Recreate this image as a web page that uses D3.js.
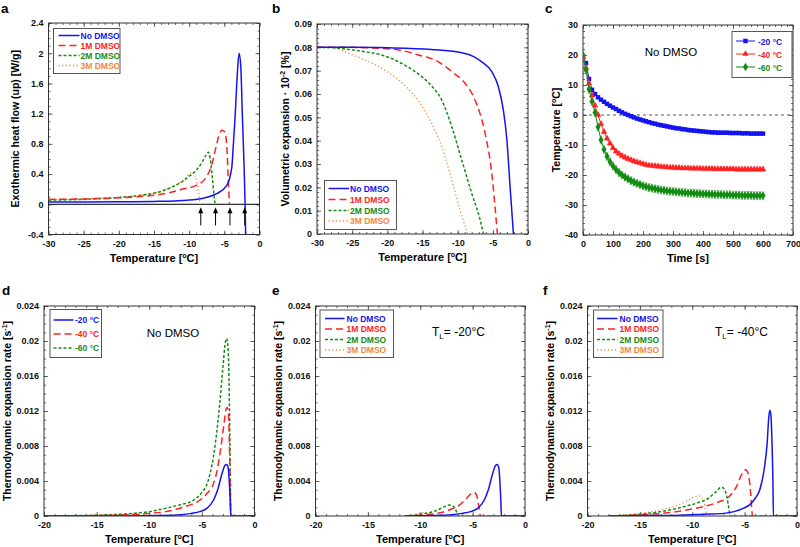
<!DOCTYPE html>
<html>
<head>
<meta charset="utf-8">
<script src="https://cdn.jsdelivr.net/npm/d3@7"></script>
<style>
  body { margin: 0; background: #fff; }
  svg { font-family: Arial, "Liberation Sans", sans-serif; }
  .tick text { font-weight: bold; font-size: 9px; fill: #111; }
</style>
</head>
<body>
<svg id="fig" width="800" height="547"></svg>
<script>
// ---------- data: panel a (heat flow vs temperature) ----------
const aNoDmso = [[-30,0.03],[-25,0.03],[-20,0.032],[-15,0.038],[-12,0.045],[-10.3,0.053],[-8,0.08],[-6.1,0.14],[-4.65,0.25],[-3.94,0.49],[-3.71,0.8],[-3.47,1.16],[-3.09,1.82],[-2.9,2.0],[-2.66,1.82],[-2.43,1.16],[-2.19,0.49],[-2.05,0],[-1.95,-0.5]];
const a1M = [[-30,0.065],[-25,0.07],[-20,0.085],[-16,0.11],[-13,0.15],[-11,0.2],[-9,0.25],[-7.5,0.37],[-6.8,0.52],[-6.2,0.75],[-5.7,0.93],[-5.35,0.98],[-4.95,0.96],[-4.65,0.77],[-4.45,0.35],[-4.27,0]];
const a2M = [[-30,0.055],[-25,0.065],[-20,0.09],[-16,0.13],[-14,0.17],[-12.4,0.23],[-11,0.3],[-10,0.37],[-9,0.45],[-8.2,0.55],[-7.6,0.65],[-7.27,0.69],[-7.0,0.6],[-6.7,0.35],[-6.45,0.1],[-6.32,0]];
const a3M = [[-30,0.065],[-25,0.075],[-20,0.095],[-17,0.12],[-15,0.15],[-13,0.21],[-12,0.25],[-11,0.31],[-10.2,0.38],[-9.6,0.43],[-9.2,0.38],[-8.9,0.3],[-8.65,0.15],[-8.45,0]];
const aArrows = [-8.35, -6.25, -4.2, -2.1];

// ---------- panel b (volumetric expansion) ----------
const bNoDmso = [[-30,0.08],[-25,0.08],[-20,0.0798],[-13.7,0.0791],[-8.95,0.0774],[-6.57,0.0738],[-5.15,0.0696],[-4.2,0.063],[-3.5,0.053],[-3.0,0.0403],[-2.55,0.0203],[-2.07,0]];
const b1M = [[-30,0.08],[-25,0.08],[-22,0.0797],[-18.4,0.0789],[-15.6,0.0767],[-12.74,0.0738],[-10.84,0.0696],[-8.95,0.0646],[-7.53,0.0574],[-6.1,0.0431],[-5.15,0.026],[-4.7,0.012],[-4.35,0]];
const b2M = [[-30,0.08],[-27.5,0.0798],[-25.5,0.0791],[-23.2,0.0781],[-20.8,0.0767],[-18.4,0.0738],[-16.06,0.0696],[-13.7,0.0634],[-12.26,0.0574],[-10.84,0.046],[-9.42,0.0317],[-8.0,0.0174],[-6.8,0.006],[-6.33,0]];
const b3M = [[-30,0.08],[-27.9,0.0799],[-25.5,0.0774],[-23.2,0.0746],[-20.8,0.071],[-18.4,0.066],[-16.06,0.0589],[-13.7,0.0474],[-12.26,0.0374],[-10.84,0.0231],[-9.66,0.0103],[-8.57,0]];

// ---------- panel c (temperature vs time, No DMSO) ----------
const cTime = [0,10,20,30,40,50,60,70,80,90,100,110,120,130,140,150,160,170,180,190,200,210,220,230,240,250,260,270,280,290,300,310,320,330,340,350,360,370,380,390,400,410,420,430,440,450,460,470,480,490,500,510,520,530,540,550,560,570,580,590,600];
const cMinus20 = [19.5,17.3,12.0,8.4,7.0,5.9,5.1,4.4,3.7,3.1,2.5,2.0,1.4,0.9,0.4,0.0,-0.4,-0.8,-1.2,-1.5,-1.8,-2.1,-2.4,-2.7,-2.9,-3.2,-3.4,-3.6,-3.8,-4.0,-4.2,-4.4,-4.5,-4.7,-4.8,-5.0,-5.1,-5.2,-5.3,-5.4,-5.5,-5.6,-5.7,-5.8,-5.8,-5.9,-5.9,-5.9,-5.9,-6.0,-6.0,-6.0,-6.0,-6.1,-6.1,-6.1,-6.2,-6.2,-6.2,-6.2,-6.2];
const cMinus40 = [19.4,15.8,10.5,6.5,3.2,0.0,-3.0,-5.6,-7.8,-9.5,-11.0,-12.1,-12.9,-13.6,-14.1,-14.6,-15.0,-15.4,-15.7,-16.0,-16.3,-16.6,-16.8,-16.9,-17.0,-17.1,-17.2,-17.3,-17.4,-17.5,-17.5,-17.6,-17.6,-17.7,-17.7,-17.7,-17.8,-17.8,-17.8,-17.8,-17.9,-17.9,-17.9,-17.9,-18.0,-18.0,-18.0,-18.0,-18.0,-18.0,-18.0,-18.1,-18.1,-18.1,-18.1,-18.1,-18.1,-18.1,-18.1,-18.1,-18.1];
const cMinus60 = [20.0,15.0,8.6,4.5,0.8,-4.0,-8.3,-11.5,-13.8,-15.6,-17.0,-18.2,-19.2,-20.0,-20.7,-21.3,-21.9,-22.4,-22.8,-23.2,-23.6,-23.9,-24.2,-24.4,-24.6,-24.8,-25.0,-25.1,-25.3,-25.4,-25.5,-25.6,-25.7,-25.8,-25.9,-26.0,-26.0,-26.1,-26.2,-26.2,-26.3,-26.3,-26.4,-26.4,-26.5,-26.5,-26.5,-26.6,-26.6,-26.6,-26.7,-26.7,-26.7,-26.8,-26.8,-26.8,-26.8,-26.9,-26.9,-26.9,-26.9];
const cErr = [0.3, 0.7, 1.3];
const cLabels = ["-20 °C", "-40 °C", "-60 °C"];

// ---------- panel d (expansion rate, No DMSO) ----------
const dMinus20 = [[-20,0],[-12,0],[-9,0.00005],[-7,0.00015],[-6,0.0003],[-5.2,0.0005],[-4.5,0.0009],[-3.9,0.0018],[-3.5,0.003],[-3.1,0.0048],[-2.8,0.0058],[-2.65,0.0059],[-2.5,0.0055],[-2.4,0.004],[-2.3,0.0015],[-2.25,0],[0,0]];
const dMinus40 = [[-20,0],[-13,0.0001],[-10,0.0003],[-8.4,0.0005],[-6.8,0.001],[-5.2,0.0018],[-4.5,0.0026],[-3.9,0.0037],[-3.5,0.0055],[-3.2,0.0078],[-2.9,0.0105],[-2.7,0.0122],[-2.6,0.0124],[-2.5,0.012],[-2.4,0.009],[-2.3,0.003],[-2.25,0],[0,0]];
const dMinus60 = [[-20,0],[-17,0.00005],[-14.7,0.0001],[-11.6,0.0003],[-10,0.0005],[-8.4,0.0009],[-7,0.0013],[-5.8,0.0018],[-5,0.0027],[-4.5,0.0037],[-3.9,0.0068],[-3.5,0.0105],[-3.3,0.0129],[-3.0,0.017],[-2.8,0.0196],[-2.65,0.0203],[-2.5,0.019],[-2.4,0.014],[-2.3,0.005],[-2.25,0],[0,0]];

// ---------- panel e (T_L = -20 °C) ----------
const eNoDmso = [[-11.5,0],[-9,0.00005],[-7,0.00015],[-6,0.0003],[-5.2,0.0005],[-4.5,0.0009],[-3.9,0.0018],[-3.5,0.003],[-3.1,0.0048],[-2.8,0.0058],[-2.65,0.0059],[-2.5,0.0055],[-2.4,0.004],[-2.3,0.0015],[-2.25,0],[0,0]];
const e1M = [[-11.5,0],[-10,0.0001],[-9,0.0002],[-8,0.0004],[-7,0.0008],[-6.2,0.0013],[-5.6,0.002],[-5.1,0.0026],[-4.85,0.0027],[-4.6,0.0023],[-4.4,0.001],[-4.25,0],[0,0]];
const e2M = [[-11.5,0],[-10.5,0.0001],[-9.5,0.0003],[-8.5,0.0006],[-7.8,0.001],[-7.3,0.00125],[-7.0,0.0012],[-6.7,0.0009],[-6.5,0.0004],[-6.35,0],[0,0]];
const e3M = [[-11.5,0],[-10.8,0.0001],[-10,0.0003],[-9.5,0.0004],[-9.1,0.0003],[-8.8,0.0001],[-8.6,0],[0,0]];

// ---------- panel f (T_L = -40 °C) ----------
const fNoDmso = [[-18,0],[-14,0.00005],[-11,0.0001],[-9,0.0002],[-7,0.0003],[-6,0.0005],[-5.1,0.0009],[-4.5,0.0013],[-4,0.002],[-3.55,0.003],[-3.1,0.0056],[-2.85,0.0083],[-2.7,0.0112],[-2.6,0.0121],[-2.5,0.0116],[-2.4,0.009],[-2.3,0.004],[-2.25,0],[0,0]];
const f1M = [[-18,0],[-14,0.0002],[-12,0.0004],[-10,0.0008],[-8.5,0.0012],[-7.5,0.0016],[-6.5,0.0022],[-5.8,0.0033],[-5.3,0.0047],[-4.9,0.0053],[-4.65,0.0048],[-4.45,0.003],[-4.3,0.0005],[-4.25,0],[0,0]];
const f2M = [[-18,0],[-15,0.0002],[-13,0.0005],[-11,0.001],[-9.5,0.0015],[-8.5,0.002],[-7.8,0.0027],[-7.2,0.0033],[-6.9,0.003],[-6.7,0.0022],[-6.5,0.0008],[-6.4,0],[0,0]];
const f3M = [[-18,0],[-15,0.0003],[-13,0.0007],[-11.5,0.0012],[-10.5,0.0017],[-9.8,0.0022],[-9.4,0.0023],[-9.1,0.0021],[-8.8,0.0012],[-8.6,0],[0,0]];

const dmsoLabels = ["No DMSO", "1M DMSO", "2M DMSO", "3M DMSO"];
const tlLabels = ["-20 °C", "-40 °C", "-60 °C"];

// ---------- styles ----------
const col = { blue: "#1414f0", red: "#ff2222", green: "#148c14", orange: "#f0883c" };
const styles = [
  { color: col.blue, dash: null, width: 1.5 },
  { color: col.red, dash: "7,4", width: 1.5 },
  { color: col.green, dash: "3,2", width: 1.5 },
  { color: col.orange, dash: "1.2,2.4", width: 1.3 }
];

const svg = d3.select("#fig");
const fmt = d => String(+d.toFixed(4));

function panel(o) {
  const [x0, x1, y0, y1] = o.box;
  const g = svg.append("g");
  const x = d3.scaleLinear().domain(o.xDom).range([x0, x1]);
  const y = d3.scaleLinear().domain(o.yDom).range([y1, y0]);

  g.append("clipPath").attr("id", "clip-" + o.name)
    .append("rect").attr("x", x0).attr("y", y0).attr("width", x1 - x0).attr("height", y1 - y0);

  // axes: major + minor, inward, on all four sides
  function addAxis(gen, scale, vals, size, tr, labels, pad) {
    const a = gen(scale).tickValues(vals).tickSizeInner(-size).tickSizeOuter(0);
    if (labels) a.tickFormat(fmt).tickPadding(pad); else a.tickFormat("");
    const s = g.append("g").attr("transform", tr).call(a);
    s.select(".domain").remove();
    s.selectAll("line").attr("stroke", "#444").attr("stroke-width", 0.8);
  }
  const xMinor = d3.range(o.xDom[0], o.xDom[1] + 1e-9, o.xMinor);
  const yMinor = d3.range(o.yDom[0], o.yDom[1] + 1e-9, o.yMinor);
  addAxis(d3.axisBottom, x, o.xTicks, 4, `translate(0,${y1})`, true, 6);
  addAxis(d3.axisBottom, x, xMinor, 2, `translate(0,${y1})`, false);
  addAxis(d3.axisTop, x, o.xTicks, 4, `translate(0,${y0})`, false);
  addAxis(d3.axisTop, x, xMinor, 2, `translate(0,${y0})`, false);
  addAxis(d3.axisLeft, y, o.yTicks, 4, `translate(${x0},0)`, true, 5);
  addAxis(d3.axisLeft, y, yMinor, 2, `translate(${x0},0)`, false);
  addAxis(d3.axisRight, y, o.yTicks, 4, `translate(${x1},0)`, false);
  addAxis(d3.axisRight, y, yMinor, 2, `translate(${x1},0)`, false);

  g.append("rect").attr("x", x0).attr("y", y0).attr("width", x1 - x0).attr("height", y1 - y0)
    .attr("fill", "none").attr("stroke", "#333").attr("stroke-width", 1);

  // axis titles
  const xt = g.append("text").attr("x", (x0 + x1) / 2).attr("y", y1 + 27)
    .attr("text-anchor", "middle").attr("font-weight", "bold").attr("font-size", "11px");
  o.xTitle(xt);
  const yt = g.append("text").attr("transform", `translate(${o.yTitleX},${(y0 + y1) / 2}) rotate(-90)`)
    .attr("text-anchor", "middle").attr("font-weight", "bold").attr("font-size", "10.5px");
  o.yTitle(yt);

  // panel letter
  svg.append("text").attr("x", o.letterX).attr("y", o.letterY).attr("font-weight", "bold")
    .attr("font-size", "13.5px").text(o.name);

  return { g, x, y, clip: `url(#clip-${o.name})` };
}

function withSup(sel, before, sup, after) {
  sel.append("tspan").text(before);
  sel.append("tspan").attr("dy", -4).attr("font-size", "7px").text(sup);
  sel.append("tspan").attr("dy", 4).text(after);
}
const tempTitle = s => withSup(s, "Temperature [", "o", "C]");
const rateTitle = s => withSup(s, "Thermodynamic expansion rate [s", "-1", "]");

function drawLines(p, seriesList) {
  const line = d3.line().x(d => p.x(d[0])).y(d => p.y(d[1])).curve(d3.curveMonotoneX);
  p.g.append("g").attr("clip-path", p.clip).selectAll("path")
    .data(seriesList).join("path")
    .attr("d", d => line(d.data))
    .attr("fill", "none")
    .attr("stroke", d => d.style.color)
    .attr("stroke-width", d => d.style.width)
    .attr("stroke-dasharray", d => d.style.dash);
}

function lineLegend(p, box, rowY, lineX, textX, labels, st, fontSize) {
  const lg = p.g.append("g");
  lg.append("rect").attr("x", box[0]).attr("y", box[1]).attr("width", box[2]).attr("height", box[3])
    .attr("fill", "#fff").attr("stroke", "#555").attr("stroke-width", 1);
  labels.forEach((lab, i) => {
    lg.append("line").attr("x1", lineX[0]).attr("x2", lineX[1]).attr("y1", rowY[i]).attr("y2", rowY[i])
      .attr("stroke", st[i].color).attr("stroke-width", st[i].width).attr("stroke-dasharray", st[i].dash);
    lg.append("text").attr("x", textX).attr("y", rowY[i] + 3).attr("font-size", fontSize)
      .attr("font-weight", "bold").attr("fill", st[i].color).text(lab);
  });
}

// ================= panel a =================
const pa = panel({
  name: "a", box: [48.5, 259.5, 23, 234.5], xDom: [-30, 0], yDom: [-0.4, 2.4],
  xTicks: [-30, -25, -20, -15, -10, -5, 0], yTicks: [-0.4, 0, 0.4, 0.8, 1.2, 1.6, 2, 2.4],
  xMinor: 1, yMinor: 0.1, xTitle: tempTitle,
  yTitle: s => s.text("Exothermic heat flow (up) [W/g]"), yTitleX: 18.5, letterX: 1, letterY: 13
});
pa.g.append("line").attr("x1", pa.x(-30)).attr("x2", pa.x(0)).attr("y1", pa.y(0)).attr("y2", pa.y(0))
  .attr("stroke", "#000").attr("stroke-width", 1);
drawLines(pa, [a3M, a2M, a1M, aNoDmso].map((d, i) => ({ data: d, style: styles[3 - i] })));
aArrows.forEach(t => {
  const xp = pa.x(t), tip = pa.y(-0.04), tail = pa.y(-0.28);
  pa.g.append("line").attr("x1", xp).attr("x2", xp).attr("y1", tail).attr("y2", tip + 4)
    .attr("stroke", "#000").attr("stroke-width", 1);
  pa.g.append("path").attr("d", `M${xp},${tip} L${xp - 2.5},${tip + 6} L${xp + 2.5},${tip + 6} Z`).attr("fill", "#000");
});
lineLegend(pa, [53.5, 28.5, 66.5, 45], [35.5, 45.5, 55.5, 65.5], [58.5, 79.5], 80.5, dmsoLabels, styles, "8.5px");

// ================= panel b =================
const pb = panel({
  name: "b", box: [317, 528, 24, 234], xDom: [-30, 0], yDom: [0, 0.09],
  xTicks: [-30, -25, -20, -15, -10, -5, 0], yTicks: [0, 0.01, 0.02, 0.03, 0.04, 0.05, 0.06, 0.07, 0.08, 0.09],
  xMinor: 1, yMinor: 0.002, xTitle: tempTitle,
  yTitle: s => withSup(s, "Volumetric expansion · 10", "-2", " [%]"), yTitleX: 288.5, letterX: 272, letterY: 13
});
drawLines(pb, [b3M, b2M, b1M, bNoDmso].map((d, i) => ({ data: d, style: styles[3 - i] })));
lineLegend(pb, [324.5, 180.5, 72, 49], [188.5, 199.5, 210.5, 221], [328.5, 349], 350, dmsoLabels, styles, "8.5px");

// ================= panel c =================
const pc = panel({
  name: "c", box: [583, 793, 25, 235], xDom: [0, 700], yDom: [-40, 30],
  xTicks: [0, 100, 200, 300, 400, 500, 600, 700], yTicks: [-40, -30, -20, -10, 0, 10, 20, 30],
  xMinor: 20, yMinor: 2, xTitle: s => s.text("Time [s]"),
  yTitle: s => withSup(s, "Temperature [", "o", "C]"), yTitleX: 560, letterX: 545, letterY: 13
});
pc.g.append("line").attr("x1", pc.x(0)).attr("x2", pc.x(700)).attr("y1", pc.y(0)).attr("y2", pc.y(0))
  .attr("stroke", "#555").attr("stroke-width", 1.2).attr("stroke-dasharray", "3,3");
const cSeries = [
  { vals: cMinus20, color: col.blue, light: "#8c8cff", sym: d3.symbolSquare, size: 20 },
  { vals: cMinus40, color: col.red, light: "#ff9a9a", sym: d3.symbolTriangle, size: 18 },
  { vals: cMinus60, color: col.green, light: "#86c486", sym: d3.symbolDiamond, size: 22 }
];
const cLine = d3.line().x((d, i) => pc.x(cTime[i])).y(d => pc.y(d));
cSeries.forEach((s, k) => {
  const sg = pc.g.append("g").attr("clip-path", pc.clip);
  // error bars
  s.vals.forEach((v, i) => {
    const xp = pc.x(cTime[i]), e = cErr[k];
    sg.append("line").attr("x1", xp).attr("x2", xp).attr("y1", pc.y(v - e)).attr("y2", pc.y(v + e))
      .attr("stroke", s.light).attr("stroke-width", 0.7);
    [v - e, v + e].forEach(w => sg.append("line").attr("x1", xp - 1.5).attr("x2", xp + 1.5)
      .attr("y1", pc.y(w)).attr("y2", pc.y(w)).attr("stroke", s.light).attr("stroke-width", 0.7));
  });
  sg.append("path").attr("d", cLine(s.vals)).attr("fill", "none").attr("stroke", s.color).attr("stroke-width", 1);
  sg.selectAll(".m").data(s.vals).join("path")
    .attr("transform", (d, i) => `translate(${pc.x(cTime[i])},${pc.y(d)})`)
    .attr("d", d3.symbol().type(s.sym).size(s.size)).attr("fill", s.color);
});
{
  const lg = pc.g.append("g");
  lg.append("rect").attr("x", 732).attr("y", 31.5).attr("width", 60).attr("height", 46)
    .attr("fill", "#fff").attr("stroke", "#555");
  const rows = [41, 54, 67];
  cSeries.forEach((s, i) => {
    lg.append("line").attr("x1", 736).attr("x2", 755).attr("y1", rows[i]).attr("y2", rows[i])
      .attr("stroke", s.color).attr("stroke-width", 1);
    lg.append("path").attr("transform", `translate(745.5,${rows[i]})`)
      .attr("d", d3.symbol().type(s.sym).size(s.size)).attr("fill", s.color);
    lg.append("text").attr("x", 758).attr("y", rows[i] + 3.5).attr("font-size", "8.5px")
      .attr("font-weight", "bold").attr("fill", s.color).text(cLabels[i]);
  });
}
pc.g.append("text").attr("x", 671).attr("y", 56).attr("text-anchor", "middle")
  .attr("font-size", "11.5px").text("No DMSO");

// ================= panels d, e, f =================
const rateCfg = {
  xDom: [-20, 0], yDom: [0, 0.024], xTicks: [-20, -15, -10, -5, 0],
  yTicks: [0, 0.004, 0.008, 0.012, 0.016, 0.02, 0.024], xMinor: 1, yMinor: 0.001,
  xTitle: tempTitle, yTitle: rateTitle, letterY: 295
};
const pd = panel(Object.assign({}, rateCfg, { name: "d", box: [44, 254.5, 306, 516], yTitleX: 11, letterX: 2 }));
drawLines(pd, [dMinus60, dMinus40, dMinus20].map((d, i) => ({ data: d, style: styles[2 - i] })));
lineLegend(pd, [50, 309.5, 51.5, 48], [320, 334, 348], [53.5, 73.5], 75, tlLabels, styles, "8.5px");
pd.g.append("text").attr("x", 173).attr("y", 337).attr("text-anchor", "middle")
  .attr("font-size", "11.5px").text("No DMSO");

const pe = panel(Object.assign({}, rateCfg, { name: "e", box: [315.5, 525, 306, 516], yTitleX: 282, letterX: 272 }));
drawLines(pe, [e3M, e2M, e1M, eNoDmso].map((d, i) => ({ data: d, style: styles[3 - i] })));
lineLegend(pe, [320, 310, 73.5, 47.5], [318.5, 329, 339.5, 350], [325, 344.5], 346.5, dmsoLabels, styles, "8.5px");

const pf = panel(Object.assign({}, rateCfg, { name: "f", box: [587.5, 797, 306, 516], yTitleX: 554, letterX: 543 }));
drawLines(pf, [f3M, f2M, f1M, fNoDmso].map((d, i) => ({ data: d, style: styles[3 - i] })));
lineLegend(pf, [593.5, 310, 69.5, 47.5], [318.5, 329, 339.5, 350], [597, 617.5], 619.5, dmsoLabels, styles, "8.5px");

[[pe, 432, "-20°C"], [pf, 715, "-40°C"]].forEach(([p, xp, v]) => {
  const t = p.g.append("text").attr("x", xp).attr("y", 336).attr("font-size", "12px");
  t.append("tspan").text("T");
  t.append("tspan").attr("dy", 3).attr("font-size", "8px").text("L");
  t.append("tspan").attr("dy", -3).text("= " + v);
});
</script>
</body>
</html>
